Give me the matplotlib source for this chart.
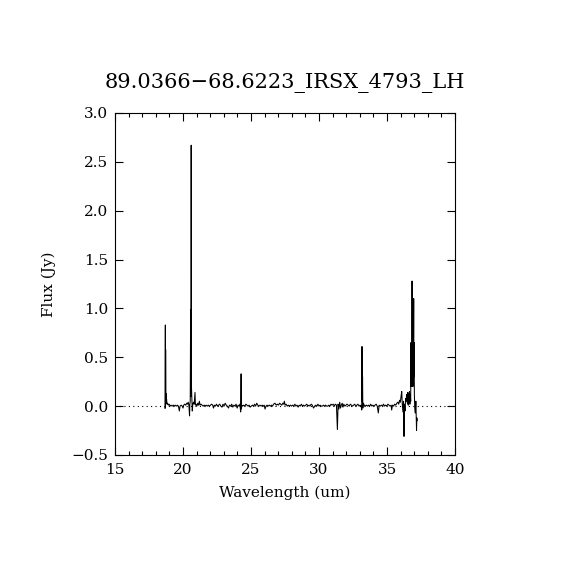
import matplotlib
matplotlib.use('Agg')
import matplotlib.pyplot as plt
from matplotlib.ticker import MultipleLocator

plt.rcParams['font.family'] = ['DejaVu Serif']

title = '89.0366\u221268.6223_IRSX_4793_LH'

# spectrum (um, Jy)
wave = [18.66, 18.68, 18.70, 18.71, 18.72, 18.74, 18.75, 18.77, 18.79, 18.82,
        18.86, 18.92, 18.98, 19.05, 19.12, 19.20, 19.28, 19.35, 19.42, 19.50,
        19.58, 19.66, 19.73, 19.78, 19.86, 19.94, 20.00, 20.05, 20.12, 20.20,
        20.27, 20.33, 20.38, 20.43, 20.48, 20.50, 20.53, 20.56, 20.58, 20.60,
        20.62, 20.65, 20.68, 20.72, 20.77, 20.82, 20.88, 20.91, 20.96, 21.02,
        21.08, 21.14, 21.20, 21.25, 21.32, 21.40, 21.48, 21.55, 21.62, 21.70,
        21.78, 21.86, 21.94, 22.02, 22.10, 22.18, 22.24, 22.30, 22.38, 22.46,
        22.54, 22.62, 22.70, 22.78, 22.86, 22.94, 23.02, 23.10, 23.18, 23.26,
        23.34, 23.42, 23.50, 23.58, 23.66, 23.74, 23.82, 23.90, 23.98, 24.05,
        24.12, 24.18, 24.24, 24.27, 24.29, 24.32, 24.38, 24.46, 24.55, 24.62,
        24.70, 24.78, 24.86, 24.94, 25.02, 25.10, 25.18, 25.26, 25.34, 25.42,
        25.50, 25.58, 25.66, 25.74, 25.82, 25.90, 25.97, 26.03, 26.10, 26.18,
        26.26, 26.34, 26.42, 26.50, 26.58, 26.66, 26.76, 26.85, 26.94, 27.02,
        27.10, 27.18, 27.26, 27.34, 27.40, 27.45, 27.50, 27.58, 27.66, 27.74,
        27.82, 27.90, 27.98, 28.06, 28.14, 28.22, 28.30, 28.38, 28.46, 28.54,
        28.62, 28.70, 28.78, 28.86, 28.94, 29.02, 29.10, 29.18, 29.26, 29.34,
        29.42, 29.50, 29.60, 29.68, 29.76, 29.84, 29.92, 30.00, 30.08, 30.16,
        30.24, 30.32, 30.40, 30.48, 30.56, 30.64, 30.72, 30.80, 30.88, 30.96,
        31.04, 31.12, 31.20, 31.28, 31.35, 31.40, 31.46, 31.52, 31.58, 31.64,
        31.70, 31.76, 31.82, 31.90, 31.98, 32.06, 32.14, 32.22, 32.30, 32.38,
        32.46, 32.54, 32.62, 32.70, 32.78, 32.86, 32.94, 33.02, 33.10, 33.14,
        33.16, 33.18, 33.20, 33.22, 33.26, 33.32, 33.40, 33.48, 33.56, 33.64,
        33.72, 33.80, 33.88, 33.96, 34.04, 34.12, 34.20, 34.28, 34.36, 34.42,
        34.50, 34.58, 34.66, 34.74, 34.82, 34.90, 34.98, 35.06, 35.14, 35.22,
        35.30, 35.34, 35.40, 35.48, 35.56, 35.64, 35.72, 35.80, 35.86, 35.92,
        35.98, 36.03, 36.08, 36.12, 36.17, 36.21, 36.25, 36.28, 36.32, 36.37,
        36.42, 36.46, 36.50, 36.53, 36.56, 36.59, 36.62, 36.65, 36.68, 36.71,
        36.74, 36.76, 36.78, 36.80, 36.82, 36.84, 36.86, 36.88, 36.90, 36.92,
        36.94, 36.96, 36.97, 36.99, 37.01, 37.04, 37.08, 37.12, 37.15, 37.17,
        37.19, 37.21]
flux = [-0.02, 0.00, 0.83, -0.02, 0.58, 0.05, 0.13, 0.03, 0.07, 0.02,
        0.03, 0.01, 0.02, 0.00, 0.01, 0.00, 0.01, 0.00, 0.01, 0.00,
        0.01, 0.00, -0.05, 0.00, 0.01, 0.00, -0.02, 0.01, 0.02, 0.01,
        0.03, 0.02, 0.04, 0.01, -0.10, 0.02, 0.05, 0.99, 0.10, 2.67,
        0.20, 0.07, -0.05, 0.02, 0.04, 0.02, 0.14, 0.01, 0.02, 0.00,
        0.03, 0.01, 0.05, 0.01, 0.02, 0.01, 0.00, 0.01, 0.00, 0.01,
        0.00, 0.01, 0.00, 0.01, 0.02, 0.01, -0.02, 0.01, 0.00, 0.02,
        0.00, 0.01, 0.02, 0.00, -0.01, 0.02, 0.00, 0.03, 0.01, 0.00,
        -0.02, 0.01, 0.00, 0.02, -0.01, 0.01, 0.00, 0.02, -0.02, 0.01,
        0.00, 0.02, -0.06, 0.33, -0.03, 0.01, 0.00, 0.01, 0.00, 0.02,
        0.01, 0.00, 0.01, -0.01, 0.00, 0.01, 0.00, 0.02, 0.00, 0.03,
        0.01, 0.00, 0.01, 0.00, 0.01, 0.00, 0.01, -0.03, 0.00, 0.01,
        0.00, 0.01, 0.00, 0.01, 0.00, 0.02, 0.03, 0.01, 0.02, 0.01,
        0.03, 0.02, 0.01, 0.03, 0.02, 0.05, 0.01, 0.02, 0.00, 0.01,
        0.00, 0.01, 0.00, 0.01, 0.00, 0.02, 0.00, 0.01, -0.01, 0.01,
        0.00, 0.02, 0.00, 0.01, 0.00, 0.01, 0.02, 0.00, 0.01, 0.00,
        0.02, 0.01, -0.02, 0.00, 0.01, 0.00, 0.02, 0.00, 0.01, 0.00,
        0.00, 0.01, 0.00, 0.01, 0.00, 0.00, 0.01, 0.00, 0.02, 0.01,
        0.02, 0.00, 0.02, 0.01, -0.24, 0.02, -0.03, 0.04, -0.02, 0.01,
        0.03, -0.01, 0.02, 0.00, 0.01, 0.02, 0.01, 0.00, 0.02, 0.01,
        0.00, 0.01, 0.02, 0.00, 0.01, 0.02, 0.00, 0.01, 0.00, -0.04,
        0.61, 0.05, 0.30, -0.02, 0.03, 0.01, 0.00, 0.01, 0.00, 0.01,
        0.00, 0.02, 0.00, 0.01, 0.00, 0.01, 0.02, 0.00, -0.07, 0.01,
        0.00, 0.01, 0.00, 0.02, 0.00, 0.01, 0.00, 0.02, 0.01, 0.00,
        0.01, -0.04, 0.01, 0.00, 0.02, 0.01, 0.03, 0.04, 0.02, 0.06,
        0.04, 0.10, 0.15, 0.02, -0.06, 0.05, -0.31, 0.02, -0.05, 0.08,
        0.05, 0.12, 0.03, 0.14, 0.01, 0.13, 0.04, 0.15, 0.02, 0.12,
        0.05, 0.65, 0.20, 0.60, 0.25, 1.28, 0.22, 0.65, 0.20, 0.62,
        0.25, 1.10, 0.30, 0.65, 0.12, -0.02, -0.07, 0.05, -0.12, -0.25,
        -0.12, -0.15]

fig = plt.figure(figsize=(5.7, 5.7), dpi=100)
ax = fig.add_axes([0.2018, 0.2018, 0.5965, 0.6])

ax.plot(wave, flux, color='black', linewidth=0.75)
ax.axhline(0.0, color='black', linestyle=(0, (1, 3)), linewidth=0.8)

ax.set_xlim(15, 40)
ax.set_ylim(-0.5, 3.0)
ax.xaxis.set_major_locator(MultipleLocator(5))
ax.xaxis.set_minor_locator(MultipleLocator(1))
ax.yaxis.set_major_locator(MultipleLocator(0.5))
ax.xaxis.set_major_formatter(plt.FuncFormatter(lambda v, p: '%d' % v))
ax.yaxis.set_major_formatter(plt.FuncFormatter(lambda v, p: ('%.1f' % v).replace('-', '\u2212')))
ax.tick_params(which='both', direction='in', top=True, right=True, labelsize=11, width=0.8)
ax.tick_params(which='major', length=6)
ax.tick_params(which='minor', length=3)
ax.tick_params(axis='x', which='major', pad=6)
ax.tick_params(axis='y', which='major', pad=5)
for s in ax.spines.values():
    s.set_linewidth(0.8)

ax.set_title(title, fontsize=15, pad=18)
ax.set_xlabel('Wavelength (um)', fontsize=11, labelpad=6)
ax.set_ylabel('Flux (Jy)', fontsize=11, labelpad=11)

fig.savefig('out.png', dpi=100)
